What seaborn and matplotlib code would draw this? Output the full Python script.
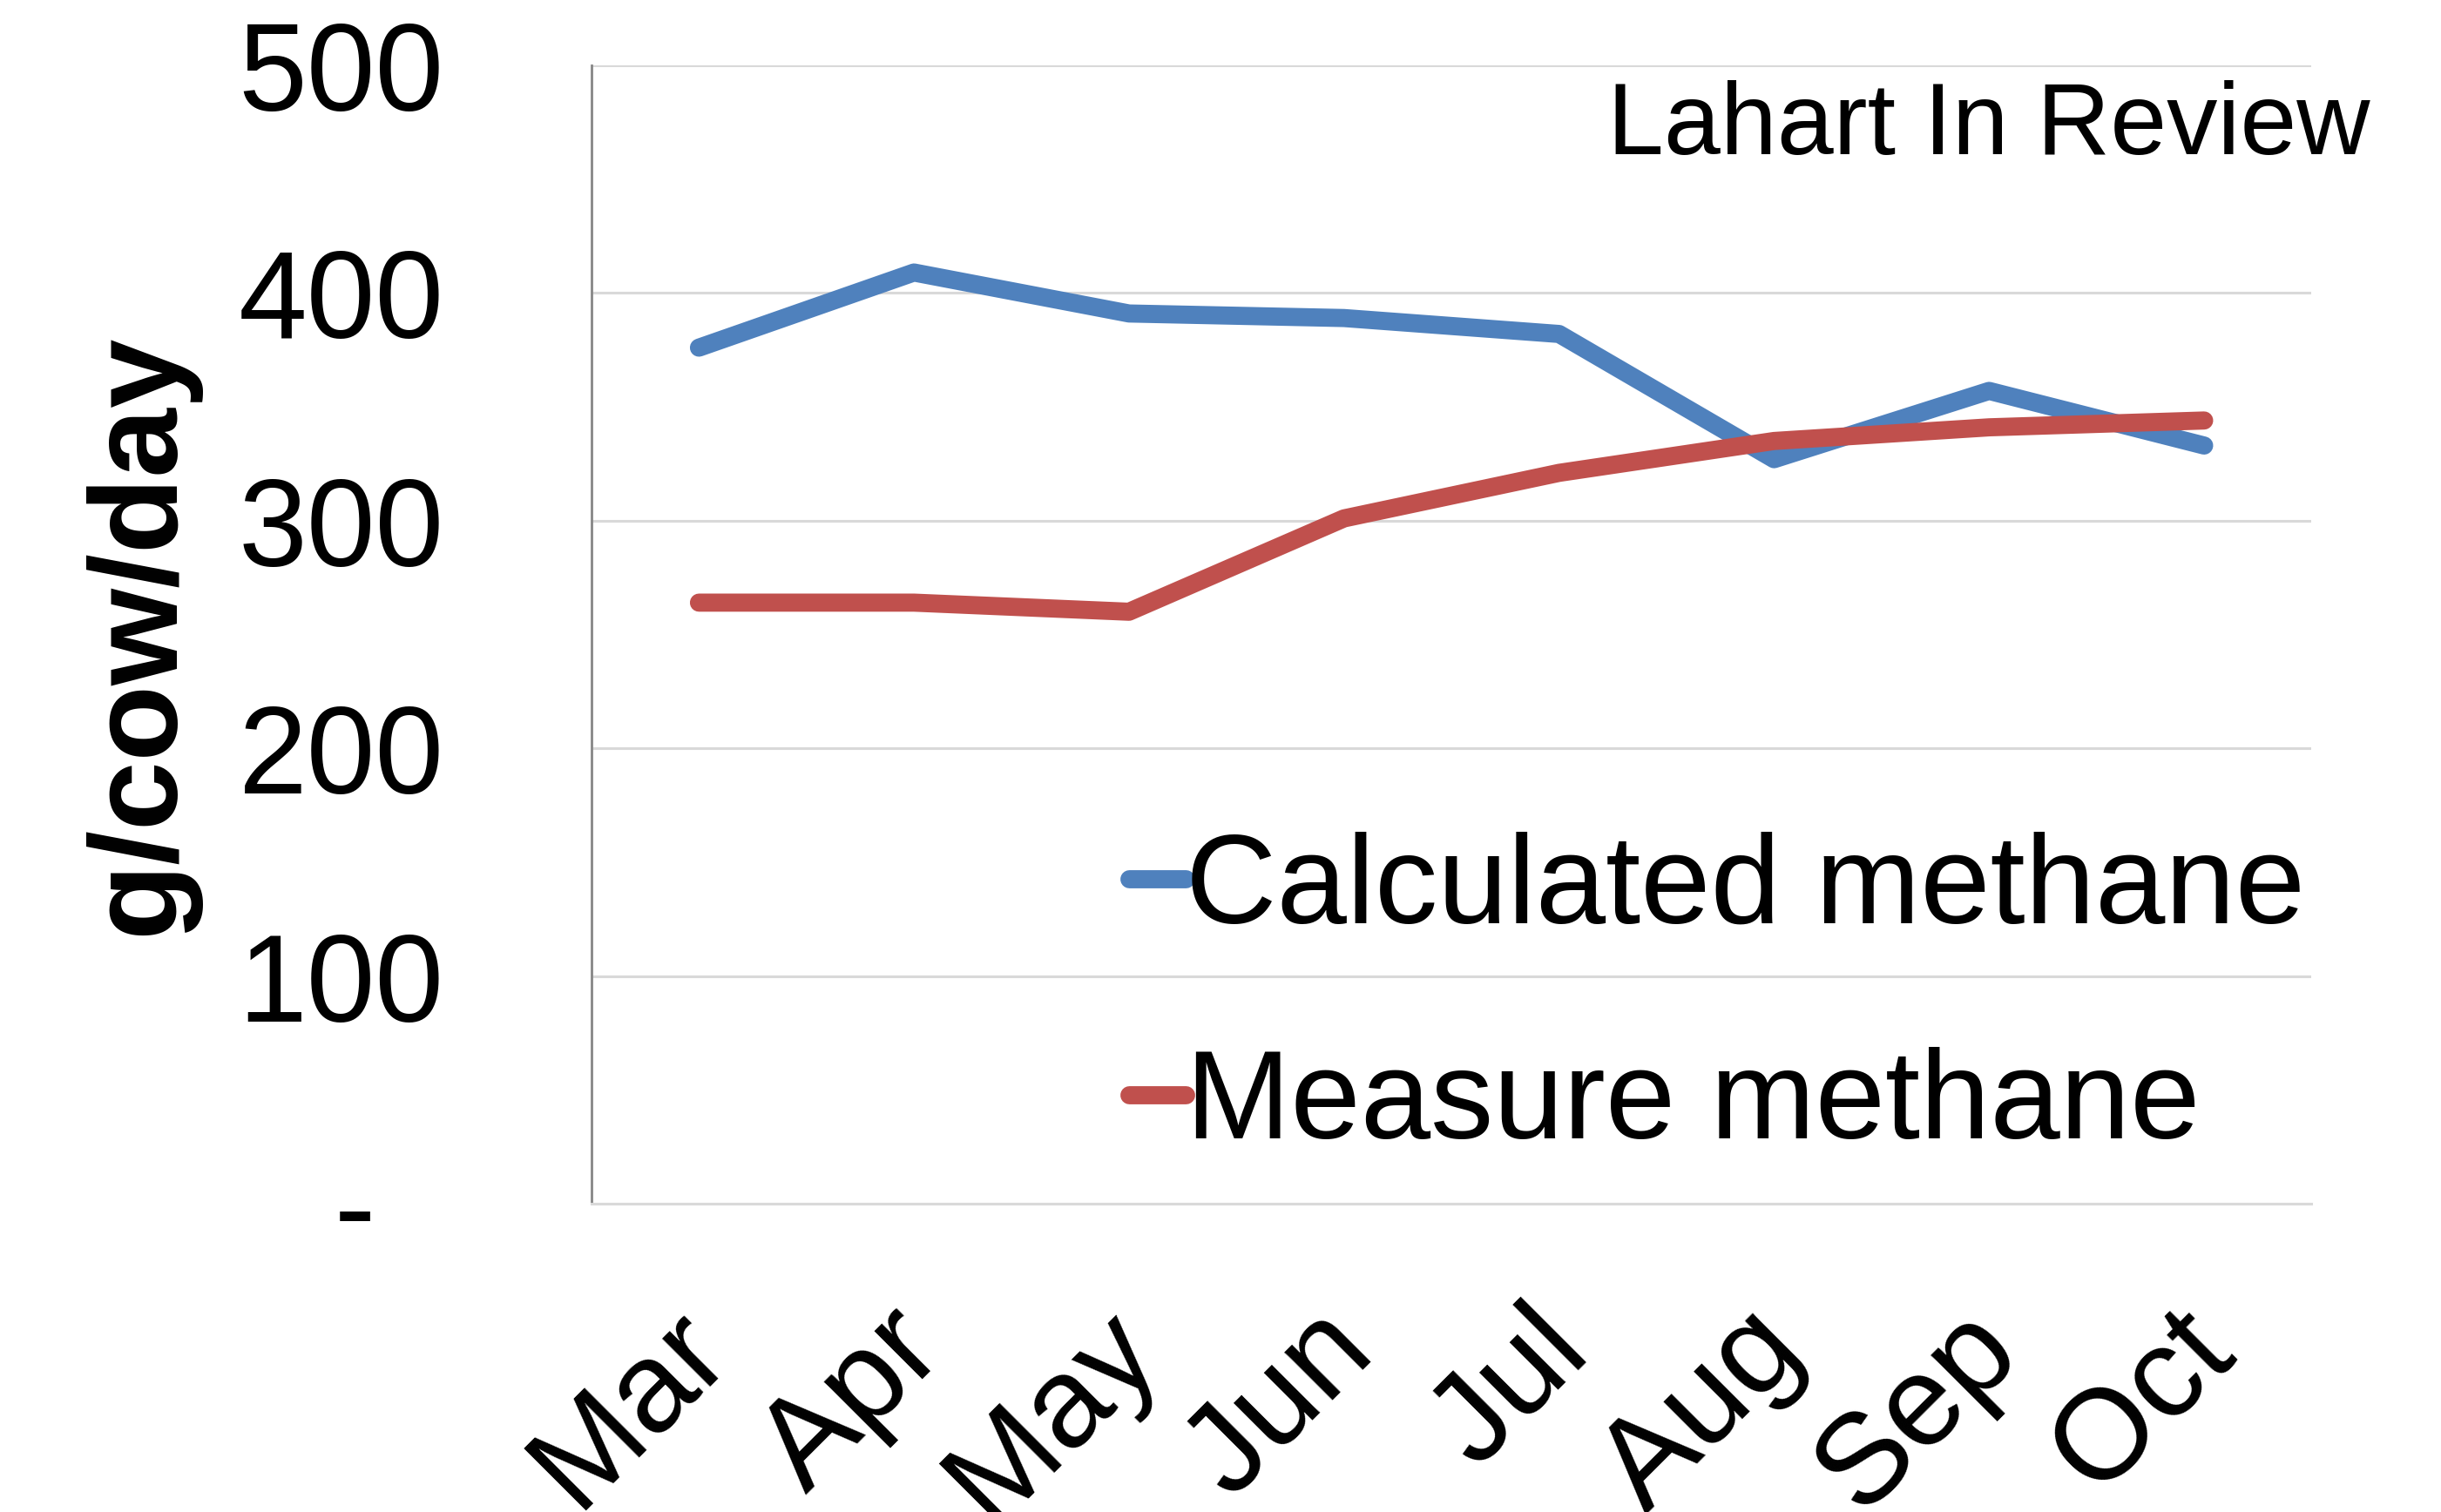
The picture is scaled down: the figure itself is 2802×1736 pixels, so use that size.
import matplotlib
matplotlib.use('Agg')
import matplotlib.pyplot as plt
import matplotlib.transforms as mtransforms
import seaborn as sns
import pandas as pd

# data
months = ['Mar', 'Apr', 'May', 'Jun', 'Jul', 'Aug', 'Sep', 'Oct']
calculated = [376, 409, 391, 389, 382, 327, 357, 333]
measured = [264, 264, 260, 301, 321, 335, 341, 344]
series_names = ['Calculated methane', 'Measure methane']
y_ticks = [0, 100, 200, 300, 400, 500]
y_labels = ['-  ', '100', '200', '300', '400', '500']

df = pd.DataFrame({
    'month': months + months,
    'value': calculated + measured,
    'series': [series_names[0]] * len(months) + [series_names[1]] * len(months),
})

blue = '#4F81BD'
red = '#C0504D'

sns.set_style('white')
plt.rcParams['font.family'] = ['Liberation Sans', 'DejaVu Sans']
plt.rcParams['text.color'] = 'black'
plt.rcParams['axes.labelcolor'] = 'black'
plt.rcParams['xtick.color'] = 'black'
plt.rcParams['ytick.color'] = 'black'

fig = plt.figure(figsize=(14.01, 8.68), dpi=200)
ax = fig.add_axes([0.2423, 0.2039, 0.947 - 0.2423, 0.9568 - 0.2039])

sns.lineplot(data=df, x='month', y='value', hue='series', palette=[blue, red],
             linewidth=7.5, solid_capstyle='round', sort=False, ax=ax)

ax.set_xlim(-0.5, len(months) - 0.5)
ax.set_ylim(0, 500)
ax.set_yticks(y_ticks)
ax.set_yticklabels(y_labels)

# gridlines / spines in Excel style
ax.yaxis.grid(True, color='#D9D9D9', linewidth=1.1)
ax.set_axisbelow(True)
for s in ['top', 'right']:
    ax.spines[s].set_visible(False)
ax.spines['left'].set_color('#868686')
ax.spines['left'].set_linewidth(1.0)
ax.spines['bottom'].set_color('#D9D9D9')
ax.spines['bottom'].set_linewidth(1.1)

ax.tick_params(axis='y', length=0, pad=61, labelsize=51)
ax.tick_params(axis='x', length=0, pad=46, labelsize=53)
offset = mtransforms.ScaledTranslation(-37 / 200, 30 / 200, fig.dpi_scale_trans)
for lab in ax.get_xticklabels():
    lab.set_rotation(45)
    lab.set_ha('right')
    lab.set_va('top')
    lab.set_rotation_mode('anchor')
    lab.set_transform(lab.get_transform() + offset)

ax.set_xlabel('')
ax.set_ylabel('g/cow/day', fontsize=51.5, fontweight='bold')
ax.yaxis.set_label_coords(-0.2284, 0.5)

handles, labels = ax.get_legend_handles_labels()
leg = ax.legend(handles, labels, loc='upper left', bbox_to_anchor=(0.3124, 0.327),
                frameon=False, fontsize=52, handlelength=0.45, handletextpad=0,
                borderpad=0, borderaxespad=0, labelspacing=0.78)
for ln in leg.get_lines():
    ln.set_linewidth(7.5)
    ln.set_solid_capstyle('round')

fig.text(0.971, 1 - 177 / 1736, 'Lahart In Review', ha='right', va='baseline', fontsize=42)

fig.savefig('out.png', dpi=200)
